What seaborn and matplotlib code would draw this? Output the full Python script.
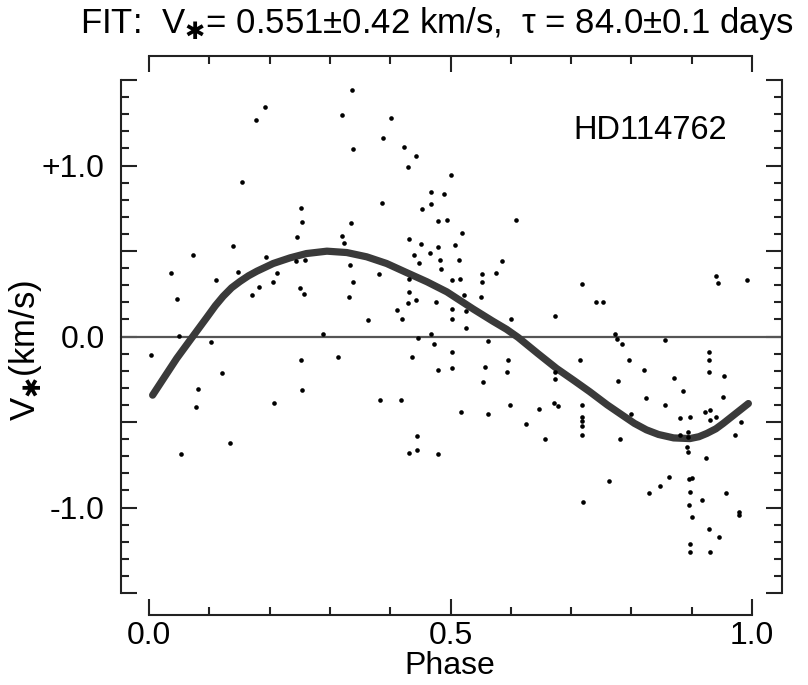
import numpy as np
import pandas as pd
import matplotlib
matplotlib.use('Agg')
import matplotlib.pyplot as plt
from matplotlib.ticker import MultipleLocator, FixedLocator, FixedFormatter
import seaborn as sns

phase = [0.409, 0.336, 0.193, 0.177, 0.320, 0.402, 0.339, 0.388, 0.423, 0.443,
         0.429, 0.501, 0.155, 0.467, 0.489, 0.468, 0.453, 0.387, 0.252, 0.254,
         0.335, 0.479, 0.495, 0.519, 0.245, 0.320, 0.323, 0.431, 0.451, 0.479,
         0.508, 0.466, 0.439, 0.483, 0.514, 0.447, 0.484, 0.140, 0.073, 0.194,
         0.243, 0.259, 0.333, 0.036, 0.148, 0.111, 0.212, 0.206, 0.182, 0.171,
         0.251, 0.257, 0.339, 0.331, 0.381, 0.431, 0.503, 0.516, 0.432, 0.429,
         0.442, 0.476, 0.412, 0.419, 0.364, 0.503, 0.503, 0.526, 0.526, 0.046,
         0.050, 0.102, 0.289, 0.467, 0.472, 0.446,
         0.004, 0.252, 0.313, 0.121, 0.081, 0.253, 0.078, 0.207, 0.383, 0.418,
         0.134, 0.053, 0.444, 0.444, 0.431, 0.479, 0.517, 0.436, 0.479, 0.503,
         0.503,
         0.609, 0.585, 0.575, 0.552, 0.552, 0.551, 0.523, 0.600, 0.673, 0.718,
         0.742, 0.753, 0.940, 0.943, 0.992, 0.563, 0.773, 0.776, 0.784, 0.856,
         0.557, 0.554, 0.596, 0.593, 0.562, 0.598, 0.646, 0.625, 0.657, 0.673,
         0.673, 0.672, 0.679, 0.715, 0.718, 0.718, 0.718, 0.718, 0.718, 0.719,
         0.796, 0.777, 0.781, 0.799, 0.821, 0.824, 0.870, 0.855, 0.886, 0.881,
         0.897, 0.894, 0.894, 0.893, 0.894, 0.881, 0.763, 0.829, 0.847, 0.863,
         0.900, 0.896, 0.897, 0.896, 0.900, 0.897, 0.897, 0.917, 0.929, 0.945,
         0.931, 0.957, 0.978, 0.978, 0.923, 0.929, 0.929, 0.929, 0.953, 0.952,
         0.922, 0.930, 0.941, 0.930, 0.981, 0.971]
velocity = [1.522, 1.440, 1.343, 1.269, 1.298, 1.279, 1.094, 1.162, 1.109, 1.057,
            0.992, 0.947, 0.901, 0.846, 0.832, 0.776, 0.745, 0.780, 0.753, 0.668,
            0.661, 0.678, 0.680, 0.608, 0.581, 0.587, 0.544, 0.571, 0.542, 0.526,
            0.536, 0.489, 0.475, 0.448, 0.450, 0.429, 0.396, 0.532, 0.475, 0.462,
            0.440, 0.450, 0.419, 0.374, 0.380, 0.333, 0.370, 0.316, 0.290, 0.242,
            0.283, 0.248, 0.320, 0.230, 0.364, 0.339, 0.332, 0.339, 0.259, 0.197,
            0.215, 0.199, 0.154, 0.101, 0.098, 0.160, 0.101, 0.152, 0.047, 0.222,
            0.004, -0.031, 0.016, 0.013, -0.045, -0.008,
            -0.111, -0.138, -0.119, -0.211, -0.308, -0.312, -0.413, -0.388, -0.374, -0.374,
            -0.620, -0.690, -0.581, -0.663, -0.684, -0.690, -0.444, -0.119, -0.197, -0.185,
            -0.092,
            0.680, 0.443, 0.370, 0.364, 0.320, 0.232, 0.242, 0.101, 0.121, 0.306,
            0.203, 0.203, 0.353, 0.314, 0.333, -0.027, 0.012, -0.012, -0.041, -0.018,
            -0.177, -0.269, -0.138, -0.206, -0.456, -0.398, -0.425, -0.513, -0.602, -0.206,
            -0.246, -0.388, -0.407, -0.138, -0.401, -0.470, -0.493, -0.524, -0.577, -0.967,
            -0.135, -0.261, -0.600, -0.456, -0.197, -0.359, -0.240, -0.401, -0.320, -0.476,
            -0.470, -0.558, -0.587, -0.645, -0.674, -0.577, -0.846, -0.918, -0.875, -0.821,
            -0.826, -0.834, -0.912, -0.986, -1.055, -1.211, -1.259, -0.959, -1.123, -1.171,
            -1.259, -0.918, -1.025, -1.041, -0.708, -0.090, -0.135, -0.206, -0.232, -0.353,
            -0.441, -0.427, -0.470, -0.491, -0.499, -0.577]

# fitted orbit curve
fit_phase = [0.006, 0.027, 0.046, 0.068, 0.082, 0.096, 0.110, 0.123, 0.137, 0.151,
             0.165, 0.179, 0.206, 0.234, 0.261, 0.295, 0.328, 0.361, 0.394, 0.427,
             0.461, 0.494, 0.538, 0.570, 0.593, 0.612, 0.645, 0.676, 0.705, 0.731,
             0.760, 0.787, 0.805, 0.825, 0.845, 0.870, 0.897, 0.912, 0.925, 0.940,
             0.952, 0.966, 0.980, 0.994]
fit_vel = [-0.343, -0.230, -0.128, -0.022, 0.045, 0.112, 0.180, 0.235, 0.285, 0.322,
           0.355, 0.382, 0.427, 0.460, 0.485, 0.499, 0.491, 0.466, 0.427, 0.374,
           0.320, 0.261, 0.160, 0.090, 0.042, -0.005, -0.100, -0.187, -0.258, -0.323,
           -0.400, -0.465, -0.508, -0.546, -0.573, -0.593, -0.597, -0.586, -0.567, -0.540,
           -0.509, -0.470, -0.431, -0.392]

y_ticks = [-1.5, -1.0, -0.5, 0.0, 0.5, 1.0, 1.5]
y_labels = ['', '-1.0', '', '0.0', '', '+1.0', '']
x_ticks = [0.0, 0.5, 1.0]
x_labels = ['0.0', '0.5', '1.0']

obs = pd.DataFrame({'phase': phase, 'v': velocity})
fit = pd.DataFrame({'phase': fit_phase, 'v': fit_vel})

sns.set_style('ticks')
plt.rcParams['font.family'] = ['Liberation Sans', 'DejaVu Sans']
# only the subscript star goes through mathtext
plt.rcParams['mathtext.fontset'] = 'custom'
plt.rcParams['mathtext.rm'] = 'DejaVu Sans'
plt.rcParams['mathtext.it'] = 'DejaVu Sans'
plt.rcParams['mathtext.bf'] = 'DejaVu Sans:bold'
plt.rcParams['text.color'] = 'black'
plt.rcParams['xtick.color'] = 'black'
plt.rcParams['ytick.color'] = 'black'

star = r'$_{\mathrm{✱}}$'

fig = plt.figure(figsize=(8.08, 6.85), dpi=100)
ax = fig.add_axes([149 / 808, 1 - 593 / 685, 603 / 808, 513 / 685])

ax.axhline(0, xmin=-0.046, xmax=1.05, color='#555555', lw=1.6, clip_on=False, zorder=1)
sns.scatterplot(data=obs, x='phase', y='v', ax=ax, color='black', s=11,
                linewidth=0, zorder=3)
sns.lineplot(data=fit, x='phase', y='v', ax=ax, sort=False, estimator=None,
             color='#3a3a3a', lw=5.2, solid_capstyle='round',
             solid_joinstyle='round', zorder=2)

ax.set_xlim(0, 1)
ax.set_ylim(-1.5, 1.5)
ax.xaxis.set_major_locator(FixedLocator(x_ticks))
ax.xaxis.set_major_formatter(FixedFormatter(x_labels))
ax.xaxis.set_minor_locator(MultipleLocator(0.1))
ax.yaxis.set_major_locator(FixedLocator(y_ticks))
ax.yaxis.set_major_formatter(FixedFormatter(y_labels))
ax.yaxis.set_minor_locator(MultipleLocator(0.1))

sns.despine(ax=ax, top=False, right=False,
            offset={'left': 20, 'right': 21.6, 'top': 17.3, 'bottom': 15.8})
for sp in ax.spines.values():
    sp.set_linewidth(1.5)
    sp.set_color('#222222')

ax.tick_params(which='both', direction='in', top=True, right=True,
               labeltop=False, labelright=False, color='#222222', width=1.5)
ax.tick_params(which='major', length=11.5, labelsize=23)
ax.tick_params(which='minor', length=6)
ax.tick_params(axis='x', which='major', pad=4)
ax.tick_params(axis='y', which='major', pad=12)

ax.set_xlabel('')
ax.set_ylabel('')
fig.text(26 / 808, 1 - 350 / 685, 'V' + star + '(km/s)', rotation=90,
         ha='center', va='center', fontsize=25)
fig.text(450 / 808, 1 - 666 / 685, 'Phase', ha='center', va='center', fontsize=23)
ax.text(0.703, 0.9025, 'HD114762', transform=ax.transAxes,
        ha='left', va='center', fontsize=23.5)
fig.text(437 / 808, 1 - 24 / 685,
         'FIT:  V' + star + '= 0.551±0.42 km/s,  τ = 84.0±0.1 days',
         ha='center', va='center', fontsize=25)

fig.savefig('out.png', dpi=100)
